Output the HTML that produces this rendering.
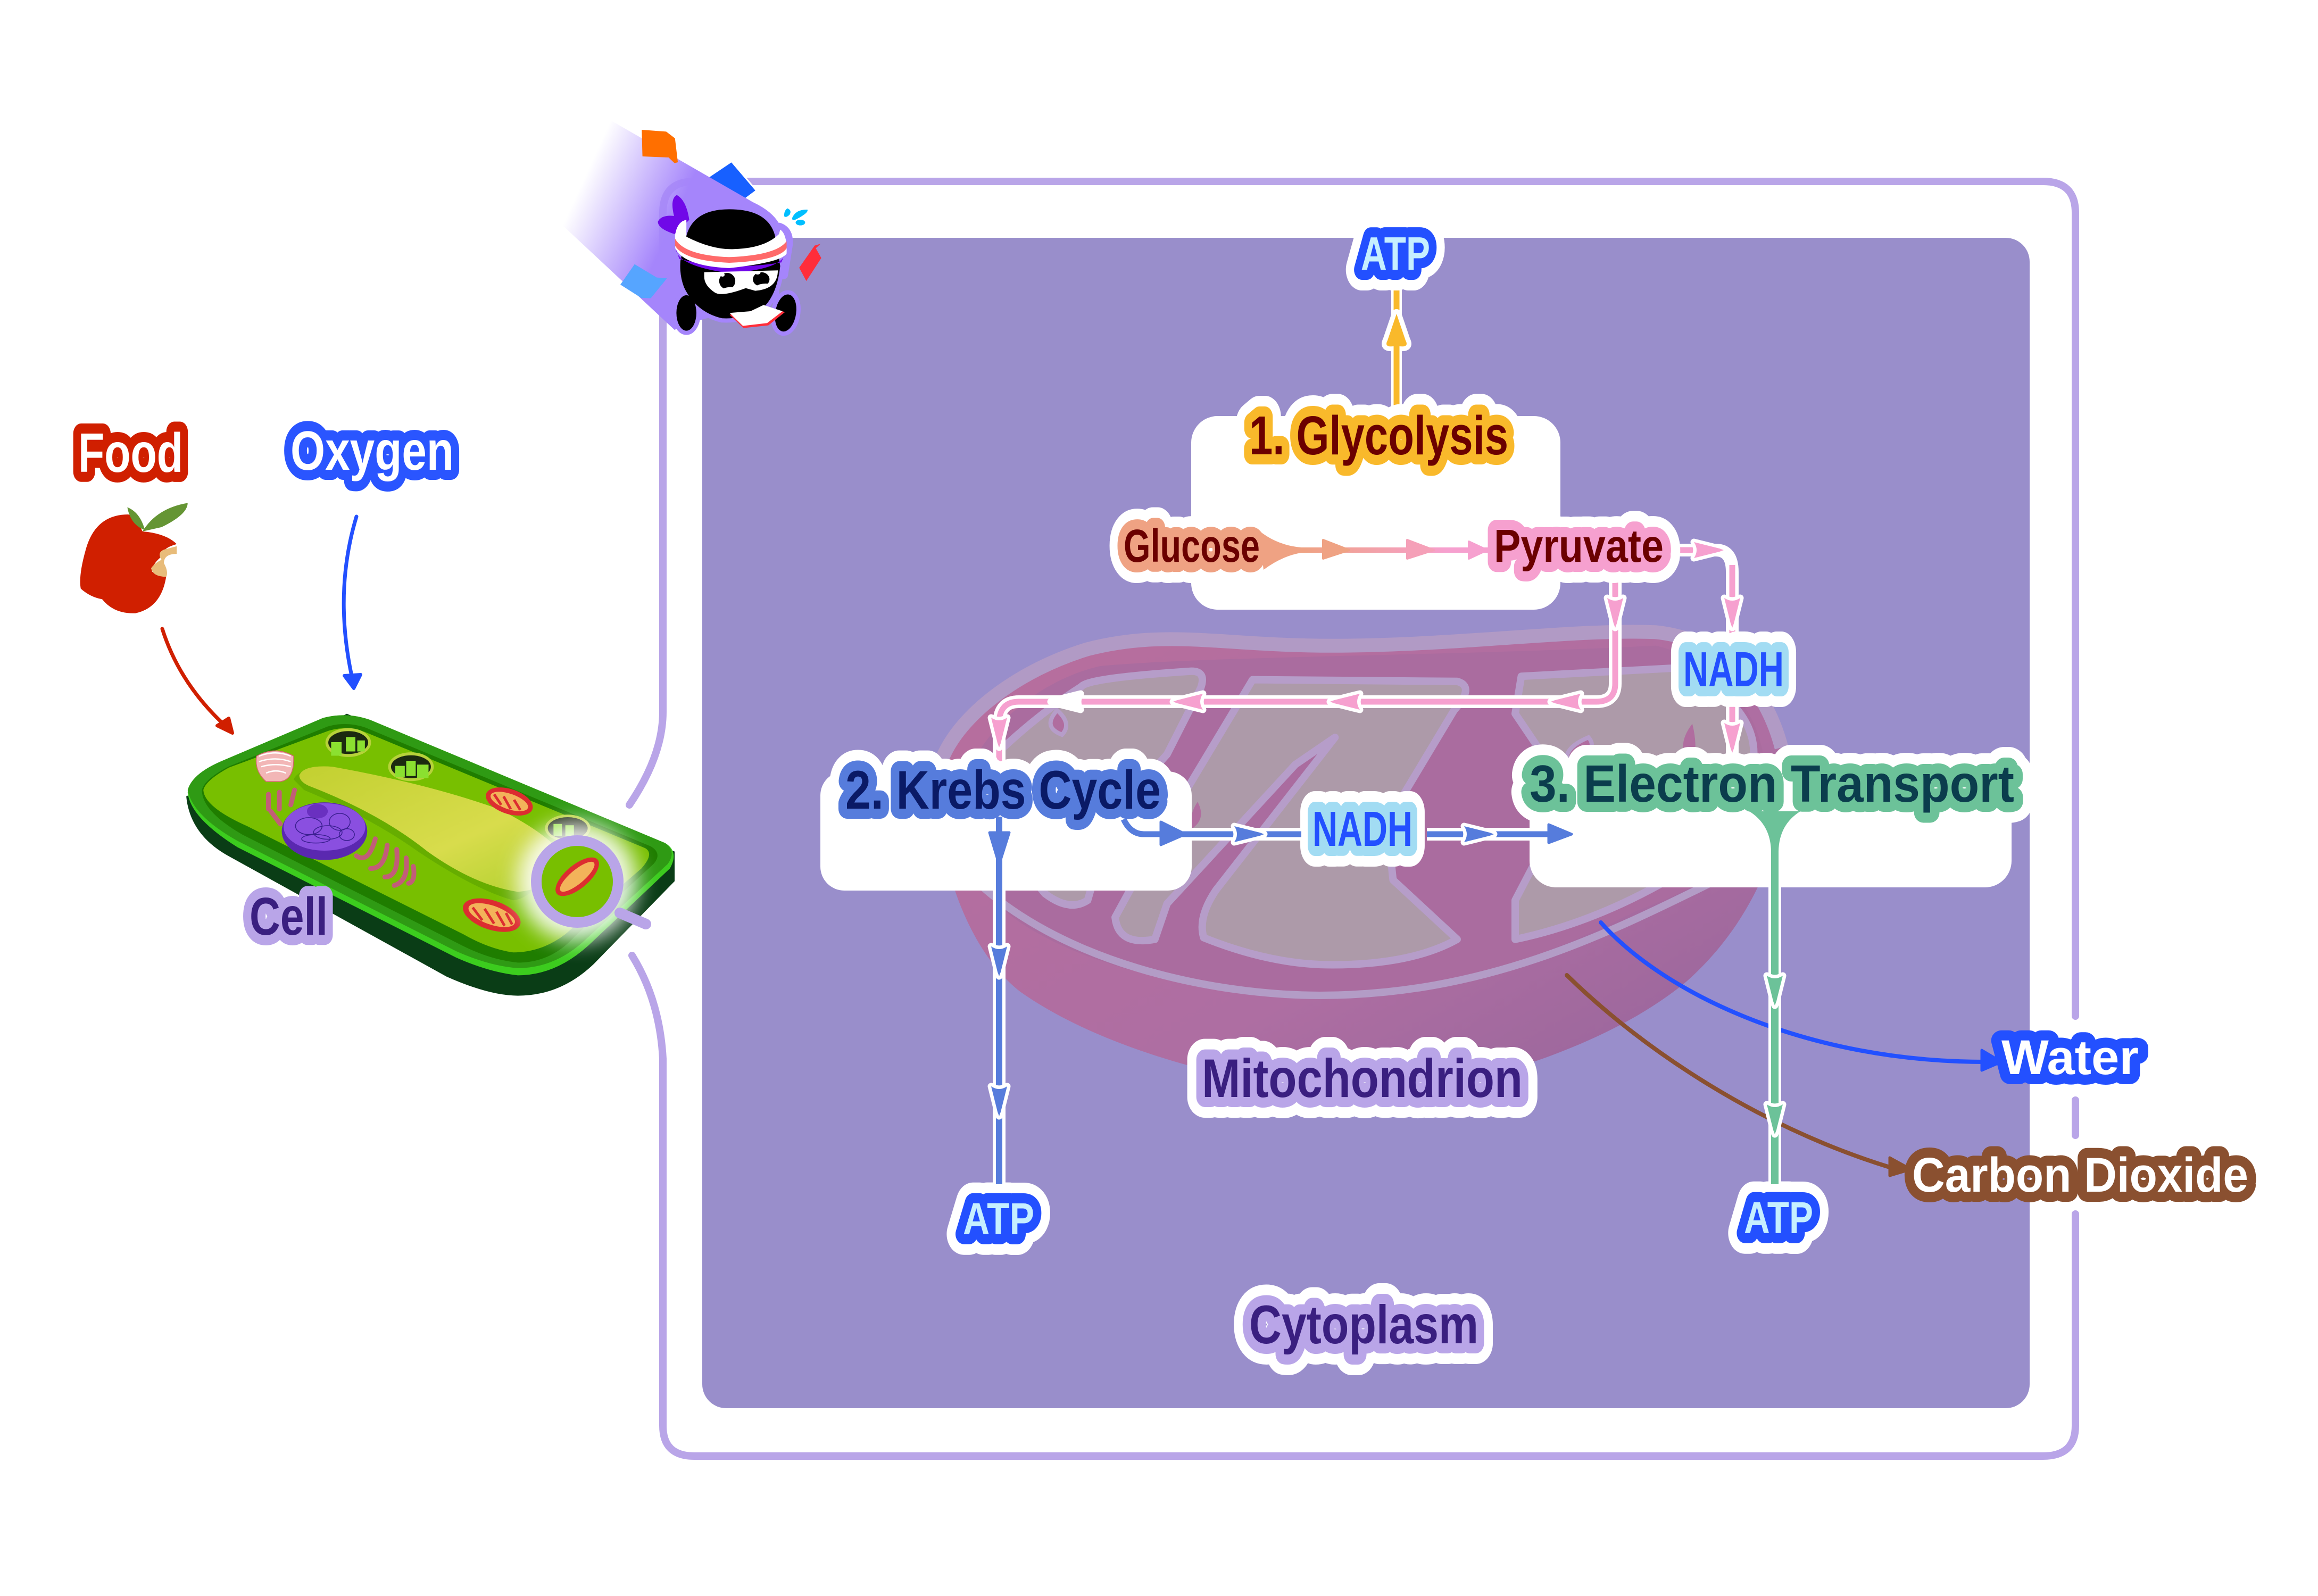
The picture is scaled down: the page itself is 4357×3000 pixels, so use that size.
<!DOCTYPE html>
<html><head><meta charset="utf-8"><style>
html,body{margin:0;padding:0;background:#fff}
svg{display:block}
text{font-family:"Liberation Sans",sans-serif;font-weight:700;stroke-linejoin:round;paint-order:stroke}
.n *{vector-effect:non-scaling-stroke}
.w{fill:none;stroke:#fff;stroke-width:78}
.h{stroke-width:38}
use{stroke:#fff;stroke-width:13;paint-order:stroke;stroke-linejoin:round}
</style></head><body>
<svg width="4357" height="3000" viewBox="0 0 4357 3000" xmlns="http://www.w3.org/2000/svg">
<defs>
<path id="hd" d="M-15,-26 Q0,-16 15,-26 L3,22 L0,30 L-3,22Z"/>
<linearGradient id="tr" gradientUnits="userSpaceOnUse" x1="230" y1="375" x2="640" y2="515"><stop offset="0" stop-color="#a585fb" stop-opacity="0"/><stop offset="1" stop-color="#a585fb"/></linearGradient>
<linearGradient id="mito" x1="0" y1="0" x2="1" y2="1"><stop offset="0" stop-color="#b86e9d"/><stop offset=".6" stop-color="#ae6ea2"/><stop offset="1" stop-color="#93649a"/></linearGradient>
<linearGradient id="gp" gradientUnits="userSpaceOnUse" x1="2450" y1="0" x2="2720" y2="0"><stop offset="0" stop-color="#efa283"/><stop offset="1" stop-color="#f6a0cf"/></linearGradient>
<linearGradient id="vac" x1="0" y1="0" x2="1" y2="1"><stop offset="0" stop-color="#c2d030"/><stop offset=".6" stop-color="#d8dc4c"/><stop offset="1" stop-color="#aed02c"/></linearGradient>
<filter id="gl" x="-60%" y="-60%" width="220%" height="220%"><feGaussianBlur stdDeviation="20"/></filter>
</defs>
<rect width="4357" height="3000" fill="#fff"/>

<!-- frame -->
<path d="M1183,1513 Q1246,1420 1246,1338 L1246,400 Q1246,341 1305,341 L3840,341 Q3901,341 3901,400 L3901,1910" fill="none" stroke="#b9a5e8" stroke-width="14" stroke-linecap="round"/>
<path d="M3901,2068 L3901,2134" fill="none" stroke="#b9a5e8" stroke-width="14" stroke-linecap="round"/>
<path d="M3901,2282 L3901,2680 Q3901,2737 3840,2737 L1305,2737 Q1246,2737 1246,2680 L1246,1990 Q1240,1880 1188,1796" fill="none" stroke="#b9a5e8" stroke-width="14" stroke-linecap="round"/>

<!-- panel -->
<rect x="1320" y="447" width="2495" height="2200" rx="45" fill="#998ecb"/>

<!-- mitochondrion -->
<g class="n" transform="translate(1700,1150) scale(1.148,.638)">
<path d="M60,440 C90,300 190,170 300,110 C430,50 520,100 700,100 C900,100 1100,50 1230,60 C1340,80 1420,220 1440,400 C1455,620 1400,900 1280,1090 C1160,1270 960,1385 800,1425 C600,1420 340,1310 190,1120 C90,980 40,650 60,440Z" fill="url(#mito)"/>
<path d="M60,440 C90,300 190,170 300,110 C430,50 520,100 700,100 C900,100 1100,50 1230,60 C1340,80 1410,220 1436,400" fill="none" stroke="#b19ac5" stroke-width="26"/>
<path d="M90,560 C100,400 200,210 320,160 C500,130 900,130 1230,100 C1380,160 1430,420 1400,560 C1360,740 1320,800 1200,880 C1000,1060 850,1130 680,1130 C500,1130 230,1040 130,820Z" fill="#aa6c9f"/>
<path d="M110,780 C250,1030 500,1130 680,1130 C950,1130 1150,950 1330,790" fill="none" stroke="#b39cc6" stroke-width="14"/>
<g fill="#ad9aa9" stroke="#b69dc9" stroke-width="14" stroke-linejoin="round">
<path d="M290,220 Q300,195 470,175 Q495,175 485,225 L430,420 L340,600 L300,850 Q270,885 230,830 L170,700 L150,420 Q220,300 290,220Z"/>
<path d="M570,200 L905,205 Q935,220 900,290 L790,620 L800,790 L905,965 Q830,1040 700,1040 Q600,1040 490,960 Q480,900 510,820 L705,370 L640,450 L430,860 L410,965 Q350,985 345,900 L430,620Z"/>
<path d="M1010,190 L1270,165 Q1400,280 1390,440 Q1370,620 1240,800 Q1120,920 1000,965 L1000,850 L1090,540 L1000,300Z"/>
</g>
<path d="M250,290 Q225,340 258,362 Q275,330 250,290Z" fill="#b06d9f" stroke="#b69dc9" stroke-width="8"/>
<path d="M480,560 Q465,600 470,640 Q495,610 480,560Z" fill="#b06d9f"/>
<path d="M1120,370 Q1080,400 1085,440 Q1140,410 1120,370Z" fill="#b06d9f" stroke="#b69dc9" stroke-width="8"/>
<path d="M1290,330 Q1260,400 1290,450 Q1300,400 1290,330Z" fill="#b06d9f"/>
</g>

<!-- white boxes -->
<rect x="2239" y="782" width="694" height="364" rx="50" fill="#fff"/>
<rect x="1542" y="1450" width="698" height="224" rx="45" fill="#fff"/>
<rect x="2875" y="1480" width="906" height="188" rx="50" fill="#fff"/>

<!-- curves to water and CO2 -->
<path d="M3009,1734 C3130,1870 3400,1996 3730,1996" fill="none" stroke="#2350ff" stroke-width="8" stroke-linecap="round"/>
<path d="M3725,1974 L3762,1996 L3725,2012Z" fill="#2350ff" stroke="#2350ff" stroke-width="5" stroke-linejoin="round"/>
<path d="M2945,1833 C3090,1975 3310,2120 3555,2195" fill="none" stroke="#8a5030" stroke-width="8" stroke-linecap="round"/>
<path d="M3552,2176 L3592,2198 L3552,2210Z" fill="#8a5030" stroke="#8a5030" stroke-width="5" stroke-linejoin="round"/>

<!-- yellow -->
<path d="M2625,535 V783" fill="none" stroke="#fff" stroke-width="20"/>
<path d="M2625,535 V783" fill="none" stroke="#f9b92b" stroke-width="11" stroke-linecap="round"/>
<path d="M2625,590 L2642,640 Q2650,655 2625,650 Q2600,655 2608,640Z" fill="#f9b92b" stroke="#fff" stroke-width="18" paint-order="stroke" stroke-linejoin="round"/>
<path d="M2625,650 V700" stroke="#f9b92b" stroke-width="11"/>

<!-- pink lines -->
<path d="M3120,1034 H3225 Q3256,1034 3256,1075 V1430" fill="none" stroke="#fff" stroke-width="24"/>
<path d="M3120,1034 H3232" fill="none" stroke="#f6a0cf" stroke-width="11" stroke-linecap="round"/>
<path d="M3256,1062 V1214 M3256,1309 V1426" fill="none" stroke="#f6a0cf" stroke-width="11"/>
<path d="M3036,1070 V1285 Q3036,1319 3000,1319 H1915 Q1878,1319 1878,1360 V1440" fill="none" stroke="#fff" stroke-width="24"/>
<path d="M3036,1070 V1285 Q3036,1319 3000,1319 H1915 Q1878,1319 1878,1360 V1440" fill="none" stroke="#f6a0cf" stroke-width="11"/>
<use href="#hd" transform="translate(3210,1034) rotate(-90)" fill="#f6a0cf"/>
<use href="#hd" transform="translate(3256,1150)" fill="#f6a0cf"/>
<use href="#hd" transform="translate(3256,1385)" fill="#f6a0cf"/>
<use href="#hd" transform="translate(3036,1150)" fill="#f6a0cf"/>
<use href="#hd" transform="translate(2945,1319) rotate(90)" fill="#f6a0cf"/>
<use href="#hd" transform="translate(2530,1319) rotate(90)" fill="#f6a0cf"/>
<use href="#hd" transform="translate(2235,1319) rotate(90)" fill="#f6a0cf"/>
<use href="#hd" transform="translate(2005,1319) rotate(90)" fill="#fff"/>
<use href="#hd" transform="translate(1878,1375)" fill="#f6a0cf"/>

<!-- labels in panel -->
<g font-size="100">
<text class="w" x="2348" y="854" font-size="103" textLength="487" lengthAdjust="spacingAndGlyphs">1. Glycolysis</text>
<text class="h" x="2348" y="854" font-size="103" textLength="487" lengthAdjust="spacingAndGlyphs" fill="#6b0000" stroke="#f9b92b">1. Glycolysis</text>
<text class="w" x="2558" y="507" font-size="88" textLength="130" lengthAdjust="spacingAndGlyphs">ATP</text>
<text class="h" x="2558" y="507" font-size="88" textLength="130" lengthAdjust="spacingAndGlyphs" fill="#c6efff" stroke="#2350ff" stroke-width="46">ATP</text>
<text class="w" x="2112" y="1056" font-size="87" textLength="256" lengthAdjust="spacingAndGlyphs">Glucose</text>
<text class="h" x="2112" y="1056" font-size="87" textLength="256" lengthAdjust="spacingAndGlyphs" fill="#6b0000" stroke="#efa283">Glucose</text>
<text class="w" x="2808" y="1056" font-size="87" textLength="319" lengthAdjust="spacingAndGlyphs">Pyruvate</text>
<text class="h" x="2808" y="1056" font-size="87" textLength="319" lengthAdjust="spacingAndGlyphs" fill="#6b0000" stroke="#f6a0cf">Pyruvate</text>
<text class="w" x="3164" y="1290" font-size="93" textLength="189" lengthAdjust="spacingAndGlyphs">NADH</text>
<text class="h" x="3164" y="1290" font-size="93" textLength="189" lengthAdjust="spacingAndGlyphs" fill="#2350ff" stroke="#a2dcf3">NADH</text>
<text class="w" x="2467" y="1590" font-size="93" textLength="188" lengthAdjust="spacingAndGlyphs">NADH</text>
<text class="h" x="2467" y="1590" font-size="93" textLength="188" lengthAdjust="spacingAndGlyphs" fill="#2350ff" stroke="#a2dcf3">NADH</text>
<text class="w" x="1589" y="1520" font-size="102" textLength="593" lengthAdjust="spacingAndGlyphs">2. Krebs Cycle</text>
<text class="h" x="1589" y="1520" font-size="102" textLength="593" lengthAdjust="spacingAndGlyphs" fill="#0a1a66" stroke="#567cdc">2. Krebs Cycle</text>
<text class="w" x="2875" y="1507" font-size="98" textLength="911" lengthAdjust="spacingAndGlyphs">3. Electron Transport</text>
<text class="h" x="2875" y="1507" font-size="98" textLength="911" lengthAdjust="spacingAndGlyphs" fill="#0b3d4d" stroke="#6cc299">3. Electron Transport</text>
<text class="w" x="2259" y="2062" font-size="102" textLength="603" lengthAdjust="spacingAndGlyphs">Mitochondrion</text>
<text class="h" x="2259" y="2062" font-size="102" textLength="603" lengthAdjust="spacingAndGlyphs" fill="#3a1f80" stroke="#b9a5e8">Mitochondrion</text>
<text class="w" x="2348" y="2525" font-size="102" textLength="431" lengthAdjust="spacingAndGlyphs">Cytoplasm</text>
<text class="h" x="2348" y="2525" font-size="102" textLength="431" lengthAdjust="spacingAndGlyphs" fill="#3a1f80" stroke="#b9a5e8">Cytoplasm</text>
<text class="w" x="1810" y="2320" font-size="84" textLength="134" lengthAdjust="spacingAndGlyphs">ATP</text>
<text class="h" x="1810" y="2320" font-size="84" textLength="134" lengthAdjust="spacingAndGlyphs" fill="#c6efff" stroke="#2350ff" stroke-width="46">ATP</text>
<text class="w" x="3278" y="2318" font-size="84" textLength="130" lengthAdjust="spacingAndGlyphs">ATP</text>
<text class="h" x="3278" y="2318" font-size="84" textLength="130" lengthAdjust="spacingAndGlyphs" fill="#c6efff" stroke="#2350ff" stroke-width="46">ATP</text>
<text class="h" x="3762" y="2019" font-size="92" textLength="258" lengthAdjust="spacingAndGlyphs" fill="#fff" stroke="#2350ff" stroke-width="32">Water</text>
<text class="h" x="3594" y="2240" font-size="92" textLength="632" lengthAdjust="spacingAndGlyphs" fill="#fff" stroke="#8a5030" stroke-width="32">Carbon Dioxide</text>
<text class="h" x="147" y="887" font-size="104" textLength="197" lengthAdjust="spacingAndGlyphs" fill="#fff" stroke="#d01f00" stroke-width="32">Food</text>
<text class="h" x="546" y="883" font-size="104" textLength="307" lengthAdjust="spacingAndGlyphs" fill="#fff" stroke="#2a55ff" stroke-width="32">Oxygen</text>
</g>

<!-- glucose -> pyruvate (fuses with the label halo) -->
<path d="M2366,997 Q2400,1025 2446,1029 L2800,1029 L2800,1039 L2446,1039 Q2410,1045 2375,1071Z" fill="url(#gp)"/>
<path d="M2487,1015 L2536,1034 L2487,1050Z" fill="#efa283" stroke="#efa283" stroke-width="4" stroke-linejoin="round"/>
<path d="M2645,1015 L2695,1034 L2645,1050Z" fill="#f5a0b8" stroke="#f5a0b8" stroke-width="4" stroke-linejoin="round"/>
<path d="M2761,1018 L2795,1034 L2761,1050Z" fill="#f6a0cf" stroke="#f6a0cf" stroke-width="4" stroke-linejoin="round"/>

<!-- blue krebs -->
<path d="M1878,1674 V2226" fill="none" stroke="#fff" stroke-width="24"/>
<path d="M1878,1535 V2226" fill="none" stroke="#567cdc" stroke-width="12"/>
<path d="M1860,1565 H1897 L1878,1625Z" fill="#567cdc" stroke="#567cdc" stroke-width="5" stroke-linejoin="round"/>
<use href="#hd" transform="translate(1878,1805)" fill="#567cdc"/>
<use href="#hd" transform="translate(1878,2068)" fill="#567cdc"/>
<path d="M2240,1568 H2446 M2682,1568 H2877" fill="none" stroke="#fff" stroke-width="24"/>
<path d="M2112,1540 Q2125,1568 2150,1568 H2446 M2682,1568 H2930" fill="none" stroke="#567cdc" stroke-width="11"/>
<path d="M2182,1545 L2228,1568 L2182,1588Z" fill="#567cdc" stroke="#567cdc" stroke-width="5" stroke-linejoin="round"/>
<use href="#hd" transform="translate(2346,1568) rotate(-90)" fill="#567cdc"/>
<use href="#hd" transform="translate(2778,1568) rotate(-90)" fill="#567cdc"/>
<path d="M2911,1550 L2954,1568 L2911,1584Z" fill="#567cdc" stroke="#567cdc" stroke-width="5" stroke-linejoin="round"/>

<!-- green -->
<path d="M3336,1668 V2226" fill="none" stroke="#fff" stroke-width="24"/>
<path d="M3288,1525 Q3328,1550 3329,1600 V2226 H3343 V1600 Q3344,1550 3384,1525Z" fill="#6cc299"/>
<use href="#hd" transform="translate(3336,1860)" fill="#6cc299"/>
<use href="#hd" transform="translate(3336,2102)" fill="#6cc299"/>

<!-- apple + arrows + cell -->
<path d="M305,1182 Q339,1290 432,1372" fill="none" stroke="#d01f00" stroke-width="7" stroke-linecap="round"/>
<path d="M437,1378 L408,1364 L430,1350Z" fill="#d01f00" stroke="#d01f00" stroke-width="6" stroke-linejoin="round"/>
<path d="M670,971 Q625,1120 665,1288" fill="none" stroke="#2350ff" stroke-width="7" stroke-linecap="round"/>
<path d="M665,1294 L647,1270 L678,1268Z" fill="#2350ff" stroke="#2350ff" stroke-width="6" stroke-linejoin="round"/>

<g class="n" transform="translate(0,700) scale(.893,.797)">
<path d="M270,335 Q200,335 180,420 Q165,480 170,510 Q190,530 215,535 Q240,570 285,568 Q340,555 350,480 L320,470 Q320,450 345,430 Q340,415 372,405 Q350,380 300,375 Q285,340 270,335Z" fill="#d01f00"/>
<path d="M372,410 L372,428 Q345,428 345,450 Q355,470 350,482 Q322,482 318,462 Q325,450 340,442 Q330,425 345,418Z" fill="#e8bc7a"/>
<path d="M300,375 Q330,320 395,308 Q395,335 340,365Z" fill="#659534"/>
<path d="M268,318 Q295,330 305,372 Q275,360 268,318Z" fill="#659534"/>

<!-- cell -->
<path d="M392,1000 Q400,1090 480,1140 L940,1425 Q1030,1470 1090,1470 Q1180,1470 1250,1395 L1420,1200 V1130 L730,805Z" fill="#0a3d16"/>
<path d="M395,990 Q400,950 470,915 L680,815 Q730,800 780,820 L1400,1110 Q1430,1130 1410,1170 L1240,1350 Q1170,1422 1090,1422 Q1030,1415 960,1380 L500,1120 Q400,1050 395,990Z" fill="#3ccc1e"/>
<path d="M395,985 Q405,945 470,915 L680,815 Q730,800 780,820 L1400,1110 Q1425,1130 1405,1160 L1235,1335 Q1170,1405 1090,1405 Q1030,1400 960,1365 L500,1105 Q405,1045 395,985Z" fill="#2f9a14"/>
<path d="M425,985 Q430,960 480,930 L690,835 Q730,822 770,838 L1370,1118 Q1395,1135 1375,1160 L1210,1330 Q1160,1392 1090,1392 Q1030,1385 970,1350 L510,1090 Q425,1035 425,985Z" fill="#1f7d00"/>
<path d="M428,985 Q433,962 482,932 L692,845 Q730,832 768,848 L1358,1122 Q1378,1135 1350,1170 L1190,1325 Q1140,1368 1080,1368 Q1030,1360 975,1325 L520,1070 Q430,1025 428,985Z" fill="#78bf00"/>
<path d="M618,960 Q630,930 700,935 Q800,960 880,1000 L1060,1060 Q1130,1110 1150,1180 Q1120,1240 1080,1245 Q1000,1220 880,1130 Q780,1050 640,985Z" fill="#5ea500" opacity=".7"/>
<path d="M630,950 Q640,925 700,930 Q900,970 1050,1030 Q1140,1080 1180,1130 L1190,1170 Q1150,1220 1090,1225 Q1000,1210 900,1130 Q800,1040 650,975 Q630,965 630,950Z" fill="url(#vac)"/>

<!-- golgi -->
<g fill="#f2b6b6" stroke="#d16a6a" stroke-width="1.5"><path d="M540,905 Q580,880 618,905 Q620,960 590,965 L560,965 Q535,940 540,905Z"/></g>
<g fill="none" stroke="#fff" stroke-width="2.5"><path d="M545,905 Q580,890 612,905M545,918 Q580,905 612,918M550,930 Q580,920 612,930M560,945 Q580,935 602,945"/></g>
<!-- ER -->
<g fill="none" stroke="#c25d78" stroke-width="9" stroke-linecap="round">
<path d="M565,995 V1030M588,990 V1030M620,985 L612,1020M570,1035 L590,1065"/>
<path d="M750,1140 Q775,1160 790,1100 M780,1170 Q810,1170 815,1115 M810,1190 Q840,1190 835,1125 M830,1210 Q860,1200 855,1145 M860,1205 Q875,1200 870,1165"/>
</g>
<!-- nucleus -->
<ellipse cx="683" cy="1082" rx="90" ry="68" fill="#5a28b0"/>
<ellipse cx="683" cy="1072" rx="86" ry="56" fill="#8a4fe0"/>
<ellipse cx="668" cy="1035" rx="22" ry="17" fill="#6a30c0"/>
<g fill="none" stroke="#3a1f90" stroke-width="1.5"><ellipse cx="650" cy="1070" rx="28" ry="20"/><ellipse cx="690" cy="1085" rx="30" ry="16"/><ellipse cx="715" cy="1060" rx="22" ry="20"/><ellipse cx="665" cy="1100" rx="30" ry="10"/><ellipse cx="730" cy="1090" rx="16" ry="14"/></g>
<!-- chloroplasts -->
<g>
<ellipse cx="733" cy="873" rx="48" ry="34" fill="#b7d23a"/><ellipse cx="733" cy="873" rx="42" ry="27" fill="#1c2a10"/><path d="M697,872h22v32h-22zM728,860h20v34h-20zM752,868h16v26h-16z" fill="#8be030"/>
<ellipse cx="865" cy="930" rx="48" ry="34" fill="#b7d23a"/><ellipse cx="865" cy="930" rx="42" ry="27" fill="#1c2a10"/><path d="M832,928h20v26h-20zM855,916h20v36h-20zM878,925h24v32h-24z" fill="#8be030"/>
<ellipse cx="1195" cy="1075" rx="48" ry="32" fill="#b7d23a"/><ellipse cx="1195" cy="1075" rx="42" ry="26" fill="#1c2a10"/><path d="M1165,1065h18v28h-18zM1190,1068h18v26h-18z" fill="#8be030"/>
</g>
<!-- mitos -->
<ellipse cx="1072" cy="1012" rx="52" ry="29" transform="rotate(22 1072 1012)" fill="#dc2d30"/>
<ellipse cx="1072" cy="1012" rx="42" ry="18" transform="rotate(22 1072 1012)" fill="#f3b35a"/>
<path d="M1040,995 L1055,1020 M1060,1000 L1075,1030 M1082,1008 L1095,1032" stroke="#dc2d30" stroke-width="5" fill="none"/>
<ellipse cx="1035" cy="1280" rx="64" ry="34" transform="rotate(22 1035 1280)" fill="#dc2d30"/>
<ellipse cx="1035" cy="1280" rx="52" ry="22" transform="rotate(22 1035 1280)" fill="#f3b35a"/>
<path d="M995,1262 L1015,1292 M1020,1265 L1040,1300 M1045,1272 L1062,1305 M1065,1275 L1078,1302" stroke="#dc2d30" stroke-width="5" fill="none"/>
</g>

<!-- magnifier -->
<circle cx="1085" cy="1657" r="112" fill="#fff" opacity=".9" filter="url(#gl)"/>
<circle cx="1085" cy="1657" r="72" fill="#78bf00"/>
<path d="M1165,1716 L1214,1737" stroke="#b9a5e8" stroke-width="20" stroke-linecap="round"/>
<ellipse cx="1085" cy="1648" rx="50" ry="22" transform="rotate(-40 1085 1648)" fill="#dc2d30"/>
<ellipse cx="1085" cy="1648" rx="41" ry="13" transform="rotate(-40 1085 1648)" fill="#f3b35a"/>
<circle cx="1085" cy="1657" r="77" fill="none" stroke="#b9a5e8" stroke-width="20"/>
<text class="h" x="469" y="1757" font-size="100" textLength="147" lengthAdjust="spacingAndGlyphs" fill="#3a1f80" stroke="#b9a5e8">Cell</text>

<!-- mascot -->
<g class="n" transform="translate(1000,200) scale(.4464,.3333)">
<path d="M840,310 L945,475 L890,530 L740,400Z" fill="#1760ff" stroke="#fff" stroke-width="3"/>
<path d="M320,70 L930,540 Q1010,590 1040,660 L1040,1100 L720,1200 L600,1260 L120,660Z" fill="url(#tr)"/>
<g fill="#a585fb" stroke="#a585fb" stroke-width="16" stroke-linejoin="round">
<ellipse cx="650" cy="1165" rx="42" ry="100"/>
<ellipse cx="1068" cy="1165" rx="44" ry="105" transform="rotate(6 1068 1165)"/>
<path d="M650,730 Q680,580 830,580 Q1000,580 1025,740 L1045,900 Q1030,1090 950,1160 Q880,1200 800,1195 Q690,1160 640,1020 Q620,950 625,870Z"/>
<path d="M1040,680 Q1085,700 1080,780 L1060,950 L1000,900Z"/>
</g>
<path d="M462,132 L565,142 L602,180 L614,315 L600,320 L575,288 L465,282Z" fill="#ff6f00"/>
<path d="M432,890 L525,965 L568,970 L500,1082 L460,1080 L372,1005Z" fill="#56a5ff"/>
<path d="M1190,785 L1215,775 L1195,800 L1218,855 L1155,985 L1125,910Z" fill="#ff2d3a"/>
<path d="M610,500 Q650,530 662,640 L600,720 Q530,690 530,650 Q545,610 598,618 Q580,520 610,500Z" fill="#7008e8"/>
<ellipse cx="650" cy="1165" rx="42" ry="100" fill="#000"/>
<ellipse cx="1068" cy="1165" rx="44" ry="105" fill="#000" transform="rotate(6 1068 1165)"/>
<path d="M650,730 Q680,580 830,580 Q1000,580 1025,740 L1045,900 Q1030,1090 950,1160 Q880,1200 800,1195 Q690,1160 640,1020 Q620,950 625,870Z" fill="#000"/>
<path d="M605,800 Q610,900 830,940 Q1060,920 1068,820 L1050,880 Q830,930 620,860Z" fill="#7008e8"/>
<path d="M602,730 Q610,650 650,640 L650,735 Q760,810 850,805 Q980,800 1040,720 L1045,695 Q1075,720 1072,830 Q1050,880 830,912 Q640,900 603,800Z" fill="#fff"/>
<path d="M602,745 Q640,840 830,850 Q1030,840 1072,760 L1072,800 Q1040,870 830,882 Q640,870 602,785Z" fill="#ff6a6a"/>
<path d="M725,935 L1035,925 Q1035,1030 940,1040 L900,1025 Q800,1075 770,1050 Q725,1010 725,960Z" fill="#fff"/>
<ellipse cx="822" cy="985" rx="34" ry="46" fill="#000"/>
<ellipse cx="965" cy="975" rx="35" ry="40" fill="#000"/>
<ellipse cx="802" cy="950" rx="9" ry="10" fill="#fff"/><ellipse cx="950" cy="938" rx="12" ry="10" fill="#fff"/>
<path d="M800,1030 Q825,1015 850,1020 L850,1040 L800,1040Z M940,1015 Q965,995 995,1000 L990,1025 L945,1030Z" fill="#fff"/>
<path d="M832,1175 L920,1155 L975,1122 L1065,1160 L995,1235 L890,1250Z" fill="#ff2d3a"/>
<path d="M832,1165 L920,1155 L975,1120 L1055,1155 L990,1222 L888,1238Z" fill="#fff"/>
<g fill="#00bfff"><path d="M1075,575 Q1095,585 1085,610 Q1070,630 1062,620 Q1060,590 1075,575Z"/><path d="M1160,582 Q1165,600 1115,635 Q1095,650 1095,630 Q1110,580 1160,582Z"/><ellipse cx="1130" cy="655" rx="20" ry="16"/></g>
</g>
</svg>
</body></html>
